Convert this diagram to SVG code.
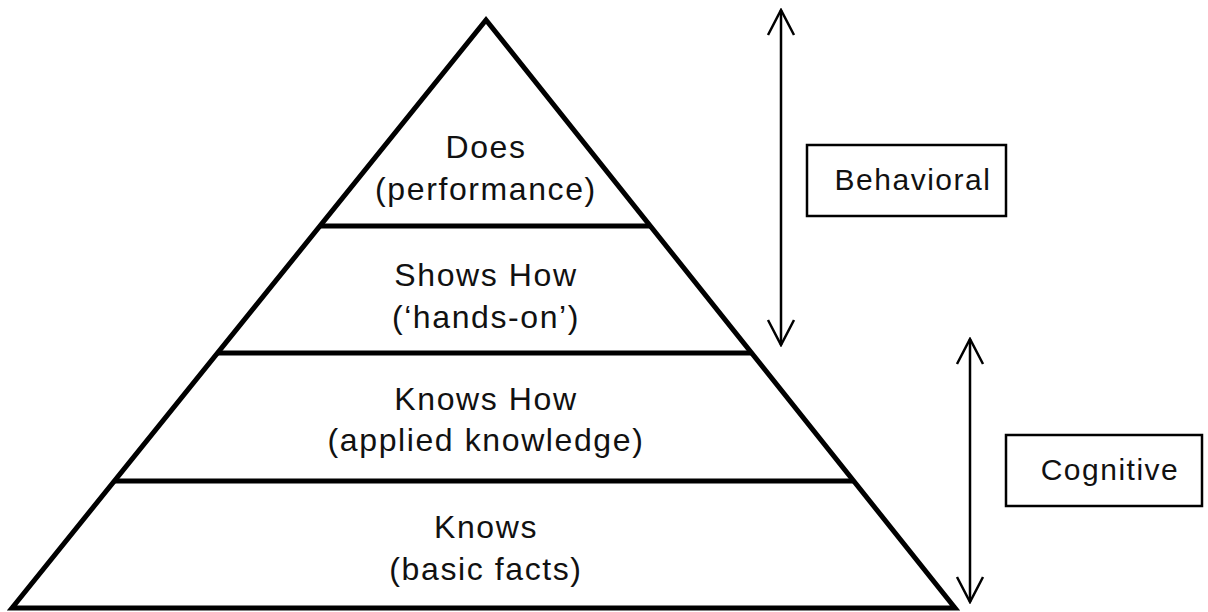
<svg xmlns="http://www.w3.org/2000/svg" width="1208" height="612" viewBox="0 0 1208 612">
<style>
.edge{fill:none;stroke:#000;stroke-width:5;stroke-linejoin:miter}
.lbl{font-family:"Liberation Sans",Arial,sans-serif;font-size:32px;fill:#111;text-anchor:middle;letter-spacing:1.6px}
.box{fill:#fff;stroke:#000;stroke-width:2.5}
.blbl{font-family:"Liberation Sans",Arial,sans-serif;font-size:30px;fill:#111;text-anchor:middle;letter-spacing:1.5px}
.arr{fill:none;stroke:#000;stroke-width:2.5}
</style>
<defs>
<marker id="ah" viewBox="0 0 30 30" refX="28" refY="15" markerWidth="30" markerHeight="30" markerUnits="userSpaceOnUse" orient="auto-start-reverse">
<path d="M3,2 L28,15 L3,28" fill="none" stroke="#000" stroke-width="2.5"/>
</marker>
</defs>
<rect width="1208" height="612" fill="#fff"/>
<g id="pyramid">
<path class="edge" d="M12,608 L486,20 L955,608 Z"/>
</g>
<g id="level-does">
<text class="lbl" x="486" y="158">Does</text>
<text class="lbl" x="486" y="200">(performance)</text>
</g>
<g id="level-showshow">
<line class="edge" x1="320" y1="226" x2="650" y2="226"/>
<text class="lbl" x="486" y="286">Shows How</text>
<text class="lbl" x="486" y="328">(‘hands-on’)</text>
</g>
<g id="level-knowshow">
<line class="edge" x1="218" y1="353" x2="751" y2="353"/>
<text class="lbl" x="486" y="410">Knows How</text>
<text class="lbl" x="486" y="451">(applied knowledge)</text>
</g>
<g id="level-knows">
<line class="edge" x1="114" y1="481" x2="853" y2="481"/>
<text class="lbl" x="486" y="538">Knows</text>
<text class="lbl" x="486" y="580">(basic facts)</text>
</g>
<g id="connectors">
<line class="arr" x1="781" y1="10" x2="781" y2="345" marker-start="url(#ah)" marker-end="url(#ah)"/>
<line class="arr" x1="970" y1="339" x2="970" y2="602" marker-start="url(#ah)" marker-end="url(#ah)"/>
</g>
<g id="behavioral">
<rect class="box" x="807" y="145" width="199" height="71"/>
<text class="blbl" x="913" y="190">Behavioral</text>
</g>
<g id="cognitive">
<rect class="box" x="1006" y="435" width="196" height="71"/>
<text class="blbl" x="1110" y="480">Cognitive</text>
</g>
</svg>
